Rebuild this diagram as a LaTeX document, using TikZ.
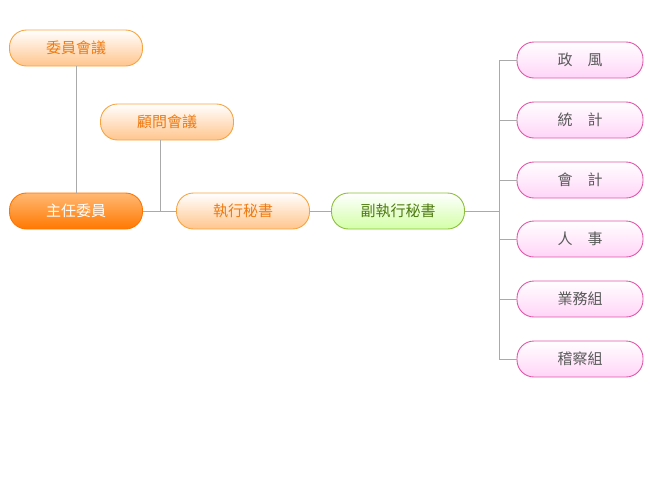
\documentclass[tikz,border=0pt]{standalone}
\usepackage{fontspec}
\newfontfamily\cjk{Noto Sans CJK TC}
\definecolor{orline}{HTML}{F7A440}
\definecolor{ortext}{HTML}{F07A10}
\definecolor{grline}{HTML}{8DBE3C}
\definecolor{grtext}{HTML}{4E7A10}
\definecolor{pkline}{HTML}{E055A8}
\definecolor{link}{HTML}{AAAAAA}
\tikzset{
  box/.style={draw, rounded corners=17pt, minimum width=133pt, minimum height=36pt, line width=0.9pt, font=\cjk\fontsize{15}{15}\selectfont},
  orbox/.style={box, draw=orline, top color=white, bottom color=orange!45, text=ortext},
  mainbox/.style={box, draw=orange!90!red, top color=orange!55, bottom color=orange!95!red, text=white},
  grbox/.style={box, draw=grline, top color=white, bottom color=green!50!yellow!35, text=grtext},
  pkbox/.style={box, minimum width=126pt, draw=pkline, top color=white, bottom color=pink!45!magenta!25, text=black!65},
  link/.style={draw=link, line width=0.8pt}
}
\begin{document}
\begin{tikzpicture}[x=1pt,y=-1pt]
	\useasboundingbox (0,0) rectangle (650,480);
	\node [orbox] (cmeet) at (76,48) {委員會議};
	\node [orbox] (ameet) at (167,122) {顧問會議};
	\node [mainbox] (chair) at (76,211) {主任委員};
	\node [orbox] (sec) at (243,211) {執行秘書};
	\node [grbox] (dsec) at (398,211) {副執行秘書};

	\node [pkbox] (d1) at (580,60) {政\quad 風};
	\node [pkbox] (d2) at (580,120) {統\quad 計};
	\node [pkbox] (d3) at (580,180) {會\quad 計};
	\node [pkbox] (d4) at (580,239) {人\quad 事};
	\node [pkbox] (d5) at (580,299) {業務組};
	\node [pkbox] (d6) at (580,359) {稽察組};

	\coordinate (bus) at (499,211);
	\coordinate (join) at (160,211);

	\draw [link] (cmeet) -- (chair);
	\draw [link] (ameet.south -| join) -- (join);
	\draw [link] (chair) -- (sec);
	\draw [link] (sec) -- (dsec);
	\draw [link] (dsec) -- (bus);
	\draw [link] (d1.west -| bus) -- (d6.west -| bus);
	\foreach \n in {d1,d2,d3,d4,d5,d6}
		\draw [link] (\n.west -| bus) -- (\n);
\end{tikzpicture}
\end{document}
